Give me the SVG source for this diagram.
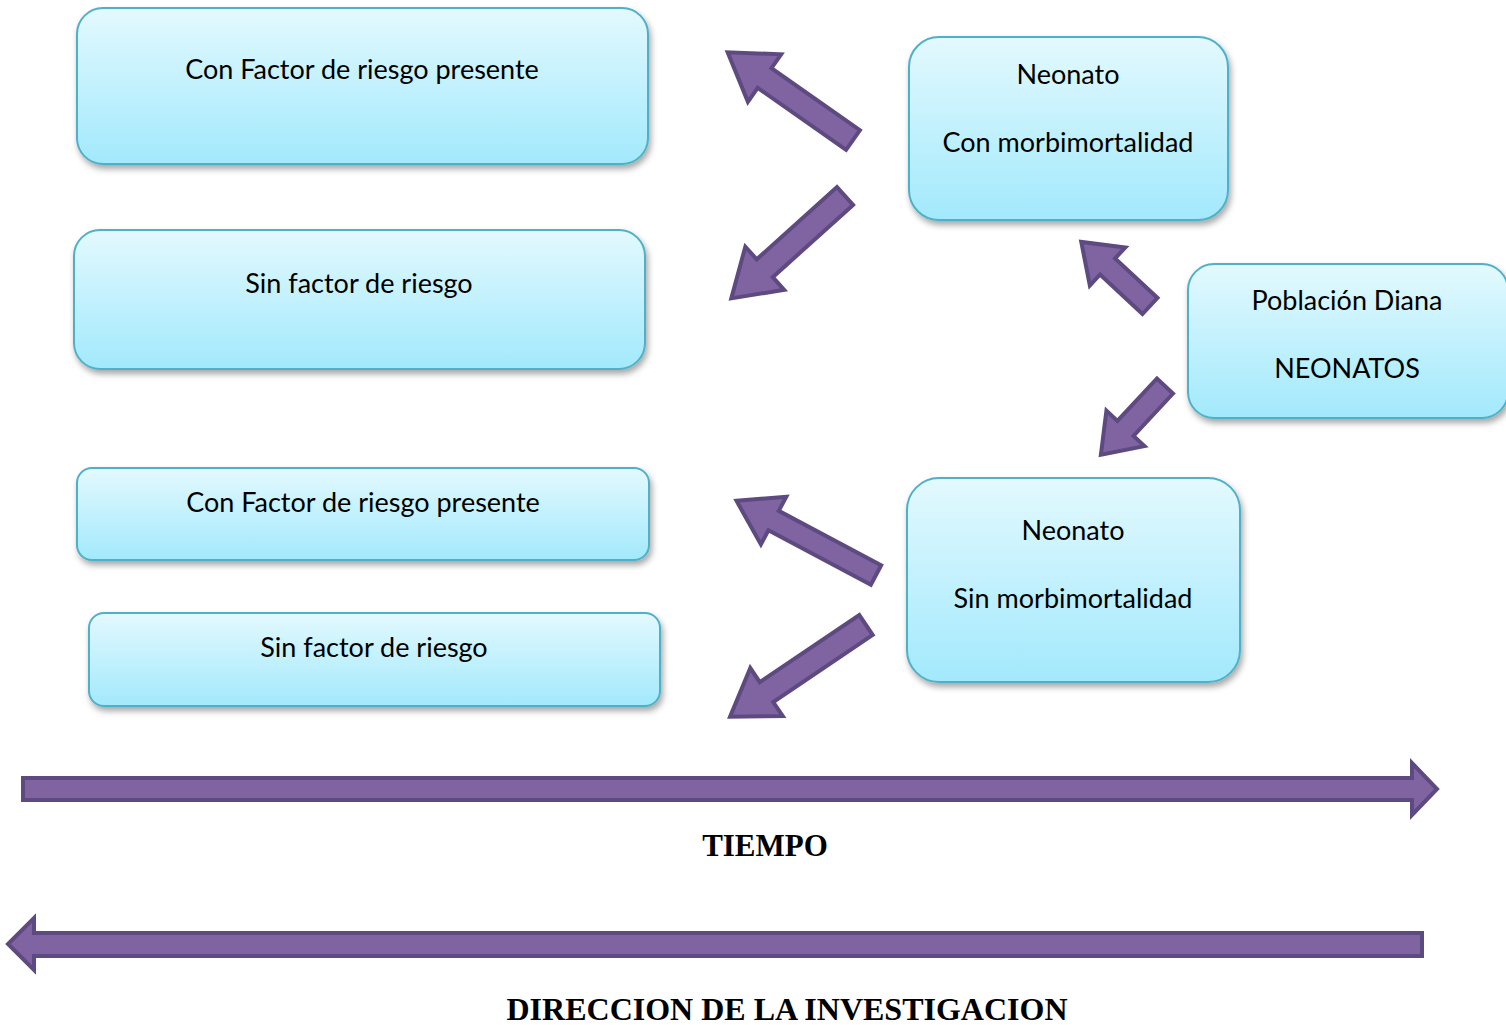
<svg xmlns="http://www.w3.org/2000/svg" width="1506" height="1025" viewBox="0 0 1506 1025">
<defs>
<linearGradient id="bg" x1="0" y1="0" x2="0" y2="1">
<stop offset="0" stop-color="#e3f9fe"/>
<stop offset="1" stop-color="#a2e9fc"/>
</linearGradient>
<filter id="sh" x="-10%" y="-10%" width="120%" height="130%">
<feDropShadow dx="2" dy="4" stdDeviation="3" flood-color="#000" flood-opacity="0.35"/>
</filter>
<style>
.box{fill:url(#bg);stroke:#4fb0c8;stroke-width:2;filter:url(#sh)}
.t{font-family:Lato,"Open Sans",sans-serif;font-size:27px;fill:#000;text-anchor:middle}
.arr{fill:#8064a2;stroke:#5d4a80;stroke-width:4;stroke-linejoin:miter}
.b{font-family:"Liberation Serif","Times New Roman",serif;font-weight:bold;font-size:31px;fill:#000;text-anchor:middle}
</style>
</defs>
<rect width="1506" height="1025" fill="#fff"/>
<g id="box1"><rect class="box" x="77" y="8" width="571" height="156" rx="26"/><text class="t" x="362" y="79">Con Factor de riesgo presente</text></g>
<g id="box2"><rect class="box" x="74" y="230" width="571" height="139" rx="26"/><text class="t" x="359" y="293">Sin factor de riesgo</text></g>
<g id="box3"><rect class="box" x="77" y="468" width="572" height="92" rx="15"/><text class="t" x="363" y="512">Con Factor de riesgo presente</text></g>
<g id="box4"><rect class="box" x="89" y="613" width="571" height="93" rx="15"/><text class="t" x="374" y="657">Sin factor de riesgo</text></g>
<g id="neoCon"><rect class="box" x="909" y="37" width="319" height="183" rx="30"/><text class="t" x="1068" y="84">Neonato</text><text class="t" x="1068" y="152">Con morbimortalidad</text></g>
<g id="poblacion"><rect class="box" x="1188" y="264" width="320" height="154" rx="26"/><text class="t" x="1347" y="310">Población Diana</text><text class="t" x="1347" y="378">NEONATOS</text></g>
<g id="neoSin"><rect class="box" x="907" y="478" width="333" height="204" rx="32"/><text class="t" x="1073" y="540">Neonato</text><text class="t" x="1073" y="608">Sin morbimortalidad</text></g>
<g id="connectors">
<polygon class="arr" transform="translate(853,140) rotate(215)" points="0,-12 108,-12 108,-29 153,0 108,29 108,12 0,12"/>
<polygon class="arr" transform="translate(845,196) rotate(138)" points="0,-12 108,-12 108,-29 153,0 108,29 108,12 0,12"/>
<polygon class="arr" transform="translate(1150,306) rotate(223)" points="0,-11 58,-11 58,-26 94,0 58,26 58,11 0,11"/>
<polygon class="arr" transform="translate(1165,386) rotate(133)" points="0,-11 58,-11 58,-26 94,0 58,26 58,11 0,11"/>
<polygon class="arr" transform="translate(876,575) rotate(208)" points="0,-11 116,-11 116,-27 158,0 116,27 116,11 0,11"/>
<polygon class="arr" transform="translate(866,625) rotate(146)" points="0,-12 120,-12 120,-29 164,0 120,29 120,12 0,12"/>
<polygon class="arr" points="23,778 1412,778 1412,763 1437,789 1412,815 1412,800 23,800"/>
<polygon class="arr" points="1422,933 34,933 34,918 8,944 34,970 34,956 1422,956"/>
</g>
<text class="b" x="765" y="856">TIEMPO</text>
<text class="b" x="787" y="1020" style="font-size:32px">DIRECCION DE LA INVESTIGACION</text>
</svg>
